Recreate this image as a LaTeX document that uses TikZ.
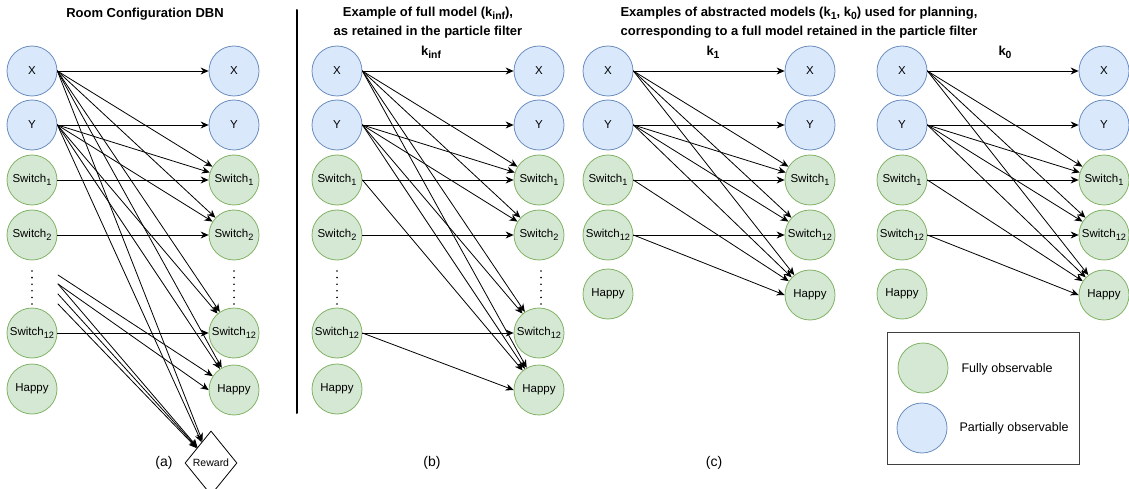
\documentclass[tikz,border=0pt]{standalone}
\usepackage{fontspec}
\setmainfont{Liberation Sans}
\usepackage{tikz}
\usetikzlibrary{arrows.meta,shapes.geometric}
\usepackage{xcolor}
\definecolor{obsfill}{HTML}{D5E8D4}
\definecolor{obsline}{HTML}{82B366}
\definecolor{hidfill}{HTML}{DAE8FC}
\definecolor{hidline}{HTML}{6C8EBF}
\newcommand{\lowtext}[1]{\raisebox{-0.45ex}{\scalebox{0.8}{#1}}}

\begin{document}
\begin{tikzpicture}[x=1pt,y=-1pt,>={Stealth[length=8pt,width=7pt]},line cap=round,
  var/.style={circle,minimum size=50pt,inner sep=0pt,line width=0.8pt,font=\fontsize{11.5}{13}\selectfont},
  hid/.style={var,draw=hidline,fill=hidfill},
  obs/.style={var,draw=obsline,fill=obsfill},
  dep/.style={->,line width=0.8pt},
  head/.style={font=\bfseries\fontsize{13}{19}\selectfont,align=center},
  panel/.style={font=\fontsize{14}{16}\selectfont},
  vdots/.style={line width=1.8pt,dash pattern=on 0pt off 6.6pt}]
\useasboundingbox (0,0) rectangle (1129,489);
\node[head] (aTitle) at (145,14) {Room Configuration DBN};
\node[head] (bTitle) at (428,23) {Example of full model (k\lowtext{inf}),\\as retained in the particle filter};
\node[head] (cTitle) at (799,23) {Examples of abstracted models (k\lowtext{1}, k\lowtext{0}) used for planning,\\corresponding to a full model retained in the particle filter};
\node[head] (bK) at (431,52) {k\lowtext{inf}};
\node[head] (cK1) at (713,52) {k\lowtext{1}};
\node[head] (cK0) at (1005,52) {k\lowtext{0}};
\draw[line width=2pt] (297,10) -- (297,413);
\node[hid] (aXl) at (32,71) {X};
\node[hid] (aYl) at (32,125) {Y};
\node[obs] (aS1l) at (32,180) {Switch\lowtext{1}};
\node[obs] (aS2l) at (32,235) {Switch\lowtext{2}};
\node[obs] (aS12l) at (32,333) {Switch\lowtext{12}};
\node[obs] (aHl) at (32,389) {Happy};
\node[hid] (aXr) at (234,71) {X};
\node[hid] (aYr) at (234,125) {Y};
\node[obs] (aS1r) at (234,180) {Switch\lowtext{1}};
\node[obs] (aS2r) at (234,235) {Switch\lowtext{2}};
\node[obs] (aS12r) at (234,333) {Switch\lowtext{12}};
\node[obs] (aHr) at (234,390) {Happy};
\node[diamond,draw,minimum width=52pt,minimum height=64pt,inner sep=0pt,line width=0.8pt,font=\fontsize{10.5}{12}\selectfont] (aR) at (211,463) {Reward};
\draw[vdots] (32,271) -- (32,305);
\draw[vdots] (234,271) -- (234,305);
\coordinate (ad1) at (58,275);
\coordinate (ad2) at (58,284);
\coordinate (ad3) at (58,294);
\coordinate (ad4) at (58,304);
\draw[dep] (aXl.east) -- (aXr);
\draw[dep] (aXl.east) -- (aS1r);
\draw[dep] (aXl.east) -- (aS2r);
\draw[dep] (aXl.east) -- (aS12r);
\draw[dep] (aXl.east) -- (aHr);
\draw[dep] (aXl.east) -- (aR);
\draw[dep] (aYl.east) -- (aYr);
\draw[dep] (aYl.east) -- (aS1r);
\draw[dep] (aYl.east) -- (aS2r);
\draw[dep] (aYl.east) -- (aS12r);
\draw[dep] (aYl.east) -- (aHr);
\draw[dep] (aYl.east) -- (aR);
\draw[dep] (aS1l.east) -- (aS1r);
\draw[dep] (aS2l.east) -- (aS2r);
\draw[dep] (aS12l.east) -- (aS12r);
\draw[dep] (ad1) -- (aHr);
\draw[dep] (ad2) -- (aR);
\draw[dep] (ad2) -- (aHr.west);
\draw[dep] (ad3) -- (aR);
\draw[dep] (ad4) -- (aR);
\node[panel] (aLab) at (164,463) {(a)};
\node[hid] (bXl) at (337,71) {X};
\node[hid] (bYl) at (337,125) {Y};
\node[obs] (bS1l) at (337,180) {Switch\lowtext{1}};
\node[obs] (bS2l) at (337,235) {Switch\lowtext{2}};
\node[obs] (bS12l) at (337,333) {Switch\lowtext{12}};
\node[obs] (bHl) at (337,389) {Happy};
\node[hid] (bXr) at (539,71) {X};
\node[hid] (bYr) at (539,125) {Y};
\node[obs] (bS1r) at (539,180) {Switch\lowtext{1}};
\node[obs] (bS2r) at (539,235) {Switch\lowtext{2}};
\node[obs] (bS12r) at (539,333) {Switch\lowtext{12}};
\node[obs] (bHr) at (539,390) {Happy};
\draw[vdots] (337,271) -- (337,305);
\draw[vdots] (541,271) -- (541,305);
\draw[dep] (bXl.east) -- (bXr);
\draw[dep] (bXl.east) -- (bS1r);
\draw[dep] (bXl.east) -- (bS2r);
\draw[dep] (bXl.east) -- (bS12r);
\draw[dep] (bXl.east) -- (bHr);
\draw[dep] (bYl.east) -- (bYr);
\draw[dep] (bYl.east) -- (bS1r);
\draw[dep] (bYl.east) -- (bS2r);
\draw[dep] (bYl.east) -- (bS12r);
\draw[dep] (bYl.east) -- (bHr);
\draw[dep] (bS1l.east) -- (bS1r);
\draw[dep] (bS1l.east) -- (bHr);
\draw[dep] (bS2l.east) -- (bS2r);
\draw[dep] (bS12l.east) -- (bS12r);
\draw[dep] (bS12l.east) -- (bHr.west);
\node[panel] (bLab) at (432,463) {(b)};
\node[hid] (cXl) at (608,71) {X};
\node[hid] (cYl) at (608,125) {Y};
\node[obs] (cS1l) at (608,180) {Switch\lowtext{1}};
\node[obs] (cS12l) at (608,235) {Switch\lowtext{12}};
\node[obs] (cHl) at (608,294) {Happy};
\node[hid] (cXr) at (810,71) {X};
\node[hid] (cYr) at (810,125) {Y};
\node[obs] (cS1r) at (810,180) {Switch\lowtext{1}};
\node[obs] (cS12r) at (810,235) {Switch\lowtext{12}};
\node[obs] (cHr) at (810,295) {Happy};
\draw[dep] (cXl.east) -- (cXr);
\draw[dep] (cXl.east) -- (cS1r);
\draw[dep] (cXl.east) -- (cS12r);
\draw[dep] (cXl.east) -- (cHr);
\draw[dep] (cYl.east) -- (cYr);
\draw[dep] (cYl.east) -- (cS1r);
\draw[dep] (cYl.east) -- (cS12r);
\draw[dep] (cYl.east) -- (cHr);
\draw[dep] (cS1l.east) -- (cS1r);
\draw[dep] (cS1l.east) -- (cHr);
\draw[dep] (cS12l.east) -- (cS12r);
\draw[dep] (cS12l.east) -- (cHr.west);
\node[hid] (dXl) at (902,71) {X};
\node[hid] (dYl) at (902,125) {Y};
\node[obs] (dS1l) at (902,180) {Switch\lowtext{1}};
\node[obs] (dS12l) at (902,235) {Switch\lowtext{12}};
\node[obs] (dHl) at (902,294) {Happy};
\node[hid] (dXr) at (1104,71) {X};
\node[hid] (dYr) at (1104,125) {Y};
\node[obs] (dS1r) at (1104,180) {Switch\lowtext{1}};
\node[obs] (dS12r) at (1104,235) {Switch\lowtext{12}};
\node[obs] (dHr) at (1104,295) {Happy};
\draw[dep] (dXl.east) -- (dXr);
\draw[dep] (dXl.east) -- (dS1r);
\draw[dep] (dXl.east) -- (dS12r);
\draw[dep] (dXl.east) -- (dHr);
\draw[dep] (dYl.east) -- (dYr);
\draw[dep] (dYl.east) -- (dS1r);
\draw[dep] (dYl.east) -- (dS12r);
\draw[dep] (dYl.east) -- (dHr);
\draw[dep] (dS1l.east) -- (dS1r);
\draw[dep] (dS1l.east) -- (dHr);
\draw[dep] (dS12l.east) -- (dS12r);
\draw[dep] (dS12l.east) -- (dHr.west);
\node[panel] (cLab) at (714,463) {(c)};
\draw[line width=0.9pt,black!75] (887,332) rectangle (1079,464);
\node[obs] (lgObs) at (923,368) {};
\node[hid] (lgHid) at (922,428) {};
\node[anchor=west,font=\fontsize{12.5}{14}\selectfont] (lgObsTxt) at (958,369) {Fully observable};
\node[anchor=west,font=\fontsize{12.5}{14}\selectfont] (lgHidTxt) at (956,428) {Partially observable};
\end{tikzpicture}
\end{document}
